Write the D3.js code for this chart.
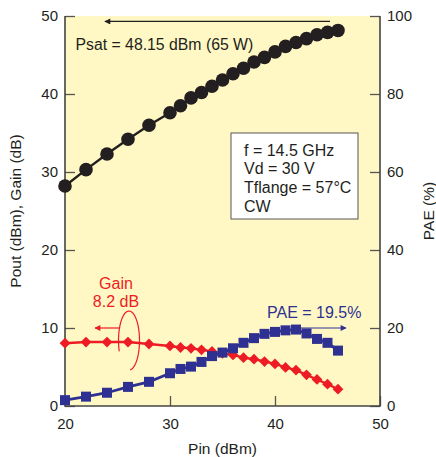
<!DOCTYPE html>
<html>
<head>
<meta charset="utf-8">
<script src="https://cdn.jsdelivr.net/npm/d3@7"></script>
<style>
  body { margin: 0; background: #fff; }
  svg { display: block; font-family: 'Liberation Sans', Arial, sans-serif; }
</style>
</head>
<body>
<div class="chart"></div>
<script>
const WIDTH = 436;
const HEIGHT = 457;
const MARGIN = { top: 16, right: 56, bottom: 51, left: 65 };

// input power (dBm)
const pin = [20, 22, 24, 26, 28, 30, 31, 32, 33, 34, 35, 36, 37, 38, 39, 40, 41, 42, 43, 44, 45, 46];
// output power (dBm)
const pout = [28.2, 30.3, 32.3, 34.2, 36.0, 37.6, 38.5, 39.5, 40.2, 41.0, 41.8, 42.6, 43.3, 44.1, 44.7, 45.4, 46.1, 46.6, 47.1, 47.6, 47.9, 48.15];
// gain (dB)
const gain = [8.05, 8.2, 8.2, 8.2, 7.95, 7.7, 7.5, 7.4, 7.2, 7.0, 6.75, 6.55, 6.2, 6.0, 5.7, 5.4, 4.95, 4.6, 4.0, 3.4, 2.8, 2.15];
// power added efficiency (%)
const pae = [1.5, 2.4, 3.4, 4.9, 6.2, 8.4, 9.5, 10.1, 11.3, 12.8, 13.7, 14.8, 16.2, 17.4, 18.5, 19.0, 19.4, 19.6, 18.6, 17.2, 16.2, 14.2];

const xTicks = [20, 30, 40, 50];
const yLeftTicks = [0, 10, 20, 30, 40, 50];
const yRightTicks = [0, 20, 40, 60, 80, 100];
const infoLines = ['f = 14.5 GHz', 'Vd = 30 V', 'Tflange = 57°C', 'CW'];

const INK = '#231f20';
const RED = '#ed1c24';
const BLUE = '#2e3192';

const svg = d3.select('.chart').append('svg')
  .attr('width', WIDTH)
  .attr('height', HEIGHT);

const x = d3.scaleLinear().domain([20, 50]).range([MARGIN.left, WIDTH - MARGIN.right]);
const yL = d3.scaleLinear().domain([0, 50]).range([HEIGHT - MARGIN.bottom, MARGIN.top]);
const yR = d3.scaleLinear().domain([0, 100]).range([HEIGHT - MARGIN.bottom, MARGIN.top]);

const x0 = x.range()[0];
const x1 = x.range()[1];
const y0 = yL.range()[0];
const y1 = yL.range()[1];

// plot background
svg.append('rect')
  .attr('x', x0).attr('y', y1)
  .attr('width', x1 - x0).attr('height', y0 - y1)
  .style('fill', '#fff8c4');

// axes (ticks point inward)
const axisStyle = (g) => {
  g.selectAll('.domain').remove();
  g.selectAll('line').attr('stroke', '#555').attr('stroke-width', 1.3);
  g.selectAll('text').style('font-size', '15px').attr('fill', INK);
};

svg.append('g')
  .attr('transform', `translate(0,${y0})`)
  .call(d3.axisBottom(x).tickValues(xTicks).tickSize(-10).tickPadding(9))
  .call(axisStyle)
  .selectAll('text').attr('dy', '0.9em');

svg.append('g')
  .attr('transform', `translate(${x0},0)`)
  .call(d3.axisLeft(yL).tickValues(yLeftTicks).tickSize(-10).tickPadding(7))
  .call(axisStyle);

svg.append('g')
  .attr('transform', `translate(${x1},0)`)
  .call(d3.axisRight(yR).tickValues(yRightTicks).tickSize(-10).tickPadding(7))
  .call(axisStyle);

// frame: left, bottom, right (no top line)
svg.append('path')
  .attr('d', `M${x0},${y1}V${y0}H${x1}V${y1}`)
  .attr('fill', 'none')
  .attr('stroke', '#444')
  .attr('stroke-width', 1.6);

// axis titles
svg.append('text')
  .attr('x', (x0 + x1) / 2).attr('y', 454)
  .attr('text-anchor', 'middle')
  .style('font-size', '15.5px').attr('fill', INK)
  .text('Pin (dBm)');

svg.append('text')
  .attr('transform', `translate(21,${(y0 + y1) / 2}) rotate(-90)`)
  .attr('text-anchor', 'middle')
  .style('font-size', '15.5px').attr('fill', INK)
  .text('Pout (dBm), Gain (dB)');

svg.append('text')
  .attr('transform', `translate(434,${(y0 + y1) / 2}) rotate(-90)`)
  .attr('text-anchor', 'middle')
  .style('font-size', '15.5px').attr('fill', INK)
  .text('PAE (%)');

// arrow markers
const defs = svg.append('defs');
[['arrInk', INK], ['arrRed', RED], ['arrBlue', BLUE]].forEach(([id, c]) => {
  defs.append('marker')
    .attr('id', id)
    .attr('viewBox', '0 0 10 10')
    .attr('refX', 9).attr('refY', 5)
    .attr('markerWidth', 9).attr('markerHeight', 6)
    .attr('orient', 'auto')
    .attr('markerUnits', 'userSpaceOnUse')
    .append('path')
    .attr('d', 'M0,0L10,5L0,10z')
    .attr('fill', c);
});

// series
const pts = (ys) => pin.map((p, i) => [p, ys[i]]);

svg.append('path')
  .datum(pts(pout))
  .attr('d', d3.line().x((d) => x(d[0])).y((d) => yL(d[1])))
  .attr('fill', 'none').attr('stroke', INK).attr('stroke-width', 2.4);

svg.append('path')
  .datum(pts(gain))
  .attr('d', d3.line().x((d) => x(d[0])).y((d) => yL(d[1])))
  .attr('fill', 'none').attr('stroke', RED).attr('stroke-width', 2.4);

svg.append('path')
  .datum(pts(pae))
  .attr('d', d3.line().x((d) => x(d[0])).y((d) => yR(d[1])))
  .attr('fill', 'none').attr('stroke', BLUE).attr('stroke-width', 2.8);

svg.append('g').selectAll('path')
  .data(pts(gain))
  .join('path')
  .attr('d', d3.symbol(d3.symbolDiamond2, 74))
  .attr('transform', (d) => `translate(${x(d[0])},${yL(d[1])})`)
  .attr('fill', RED);

svg.append('g').selectAll('rect')
  .data(pts(pae))
  .join('rect')
  .attr('x', (d) => x(d[0]) - 5).attr('y', (d) => yR(d[1]) - 5)
  .attr('width', 10).attr('height', 10)
  .attr('fill', BLUE);

svg.append('g').selectAll('circle')
  .data(pts(pout))
  .join('circle')
  .attr('cx', (d) => x(d[0])).attr('cy', (d) => yL(d[1]))
  .attr('r', 6.8)
  .attr('fill', INK);

// Psat annotation
const psat = pout[pout.length - 1];
svg.append('line')
  .attr('x1', x(46) - 8).attr('y1', yL(49.3))
  .attr('x2', x(23.8)).attr('y2', yL(49.3))
  .attr('stroke', INK).attr('stroke-width', 1.3)
  .attr('marker-end', 'url(#arrInk)');
svg.append('text')
  .attr('x', x(21)).attr('y', 50)
  .style('font-size', '15.8px').attr('fill', INK)
  .text(`Psat = ${psat} dBm (65 W)`);

// info box
const box = svg.append('g').attr('transform', 'translate(231,133)');
box.append('rect')
  .attr('width', 127).attr('height', 86)
  .attr('fill', '#fff').attr('stroke', '#555').attr('stroke-width', 1);
box.selectAll('text')
  .data(infoLines)
  .join('text')
  .attr('x', 13).attr('y', (d, i) => 22.5 + i * 18.7)
  .style('font-size', '16px').attr('fill', INK)
  .text((d) => d);

// gain annotation
svg.append('text')
  .attr('x', 116).attr('y', 289)
  .attr('text-anchor', 'middle')
  .style('font-size', '16px').attr('fill', RED)
  .text('Gain');
svg.append('text')
  .attr('x', 116).attr('y', 307)
  .attr('text-anchor', 'middle')
  .style('font-size', '16px').attr('fill', RED)
  .text(`${gain[2]} dB`);

const ex = 129;
const ey = 340.5;
const erx = 10.5;
const ery = 29.5;
svg.append('path')
  .attr('d', d3.range(0, 61).map((i) => {
    // from upper-left (arrow junction) clockwise around to lower-left
    const t = -Math.PI * 0.62 + (i / 60) * (Math.PI * 1.62 - 0.1);
    const px = ex + erx * Math.sin(t);
    const py = ey - ery * Math.cos(t);
    return `${i ? 'L' : 'M'}${px.toFixed(2)},${py.toFixed(2)}`;
  }).join(''))
  .attr('fill', 'none').attr('stroke', RED).attr('stroke-width', 1.2);
svg.append('line')
  .attr('x1', ex + erx * Math.sin(-Math.PI * 0.62)).attr('y1', 328)
  .attr('x2', 95).attr('y2', 328)
  .attr('stroke', RED).attr('stroke-width', 1.2)
  .attr('marker-end', 'url(#arrRed)');

// PAE annotation
svg.append('text')
  .attr('x', 267).attr('y', 318)
  .style('font-size', '16px').attr('fill', BLUE)
  .text(`PAE = ${19.5}%`);
svg.append('line')
  .attr('x1', x(42)).attr('y1', 328)
  .attr('x2', 346).attr('y2', 328)
  .attr('stroke', BLUE).attr('stroke-width', 1.2)
  .attr('marker-end', 'url(#arrBlue)');
</script>
</body>
</html>
